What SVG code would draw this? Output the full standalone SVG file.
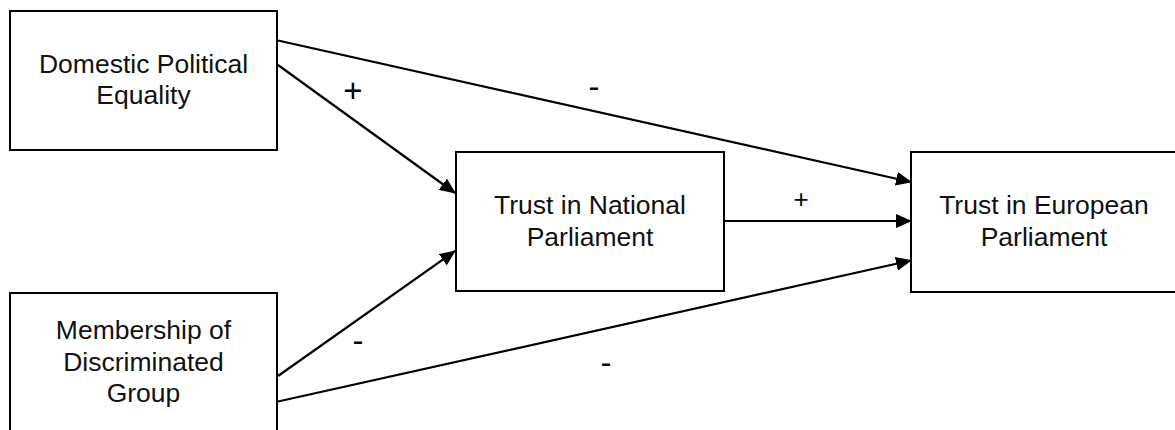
<svg xmlns="http://www.w3.org/2000/svg" width="1175" height="430" viewBox="0 0 1175 430">
<style>
  .box { fill: #ffffff; stroke: #000000; stroke-width: 2; }
  .lbl { font-family: "Liberation Sans", Arial, Helvetica, sans-serif; font-size: 26.5px; fill: #111111; text-anchor: middle; }
  .sign { font-family: "Liberation Sans", Arial, Helvetica, sans-serif; fill: #000000; text-anchor: middle; }
  .edge { stroke: #000000; stroke-width: 2.2; fill: none; marker-end: url(#arrow); }
</style>
<defs>
  <marker id="arrow" markerUnits="userSpaceOnUse" markerWidth="16" markerHeight="14" refX="15" refY="7" orient="auto">
    <path d="M0,0 L16,7 L0,14 z" fill="#000000"/>
  </marker>
</defs>
<rect width="1175" height="430" fill="#ffffff"/>
<g id="connectors">
  <line class="edge" x1="278" y1="40.5" x2="911" y2="182"/>
  <line class="edge" x1="278" y1="65" x2="455" y2="193"/>
  <line class="edge" x1="278" y1="376" x2="455" y2="251"/>
  <line class="edge" x1="278" y1="401.5" x2="911" y2="260.5"/>
  <line class="edge" x1="724" y1="221" x2="911" y2="221"/>
  <text class="sign" x="594" y="98" font-size="33">-</text>
  <text class="sign" x="353" y="102" font-size="33">+</text>
  <text class="sign" x="801" y="208" font-size="26">+</text>
  <text class="sign" x="358" y="352" font-size="33">-</text>
  <text class="sign" x="606" y="374" font-size="33">-</text>
</g>
<g id="domestic">
  <rect class="box" x="10" y="11" width="267" height="139"/>
  <text class="lbl" x="143.5" y="73">Domestic Political</text>
  <text class="lbl" x="143.5" y="104">Equality</text>
</g>
<g id="national">
  <rect class="box" x="456" y="152" width="268" height="139"/>
  <text class="lbl" x="590" y="214">Trust in National</text>
  <text class="lbl" x="590" y="246">Parliament</text>
</g>
<g id="membership">
  <rect class="box" x="10" y="293" width="267" height="139"/>
  <text class="lbl" x="143.5" y="339">Membership of</text>
  <text class="lbl" x="143.5" y="371">Discriminated</text>
  <text class="lbl" x="143.5" y="402">Group</text>
</g>
<g id="european">
  <rect class="box" x="911" y="152" width="268" height="140"/>
  <text class="lbl" x="1044" y="214">Trust in European</text>
  <text class="lbl" x="1044" y="246">Parliament</text>
</g>
</svg>
